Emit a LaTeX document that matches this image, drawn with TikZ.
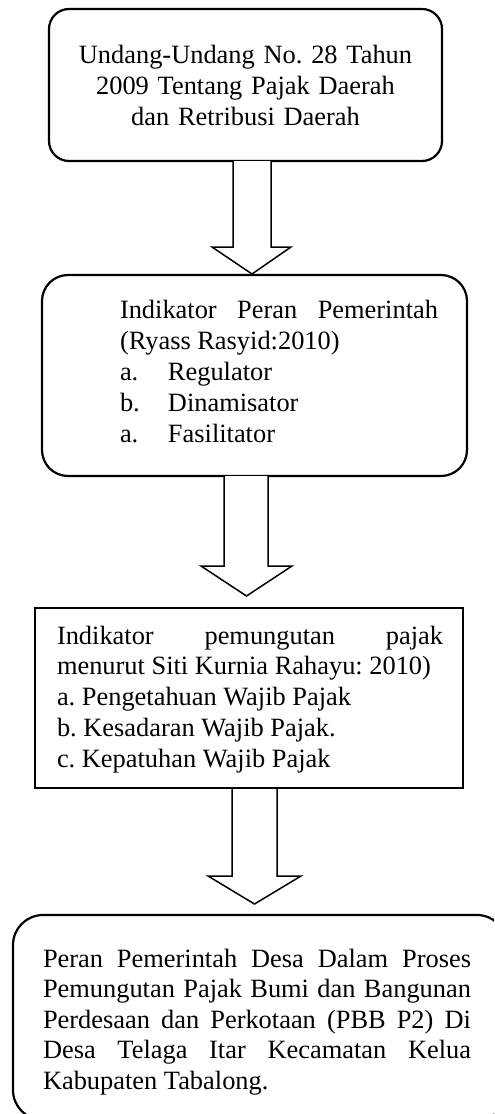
\documentclass[tikz,border=0pt]{standalone}
\usepackage{fontspec}
\setmainfont{Liberation Serif}
\frenchspacing
\begin{document}
\begin{tikzpicture}[x=0.5pt,y=-0.5pt,
  boxline/.style={draw,line width=1.1pt,inner sep=0pt,outer sep=0pt,anchor=north west},
  arrowline/.style={draw,line width=0.75pt,fill=white,line join=miter},
  txt/.style={inner sep=0pt,outer sep=0pt,anchor=base west,align=justify,font=\fontsize{13.2pt}{15.4pt}\selectfont\frenchspacing}]
\clip (0,0) rectangle (494,1114);
\useasboundingbox (0,0) rectangle (494,1114);
% boxes
\node[boxline,rounded corners=10pt,minimum width=196.5pt,minimum height=76pt] (b1) at (49,9) {};
\node[boxline,rounded corners=13pt,minimum width=212.5pt,minimum height=100.5pt] (b2) at (42,275) {};
\node[boxline,minimum width=214pt,minimum height=90pt] (b3) at (35,608) {};
\node[boxline,rounded corners=15pt,minimum width=247pt,minimum height=102.5pt] (b4) at (13,915) {};
% texts
\node[txt,anchor=base,align=center,text width=200pt,font=\fontsize{13.2pt}{15.5pt}\selectfont\frenchspacing] (t1) at (245.5,63.5)
  {Undang-Undang No. 28 Tahun\\ 2009 Tentang Pajak Daerah\\ dan Retribusi Daerah};
\node[txt,text width=159pt,font=\fontsize{13.2pt}{15.5pt}\selectfont\frenchspacing] (t2) at (120,318)
  {Indikator Peran Pemerintah\linebreak (Ryass Rasyid:2010)\\
   \makebox[24pt][l]{a.}Regulator\\
   \makebox[24pt][l]{b.}Dinamisator\\
   \makebox[24pt][l]{a.}Fasilitator};
\node[txt,text width=193pt] (t3) at (57,644)
  {Indikator pemungutan pajak\linebreak menurut Siti Kurnia Rahayu: 2010)\\
   a. Pengetahuan Wajib Pajak\\
   b. Kesadaran Wajib Pajak.\\
   c. Kepatuhan Wajib Pajak};
\node[txt,text width=214pt,font=\fontsize{13.2pt}{15.25pt}\selectfont\frenchspacing] (t4) at (43,967)
  {Peran Pemerintah Desa Dalam Proses\linebreak
   Pemungutan Pajak Bumi dan Bangunan\linebreak
   Perdesaan dan Perkotaan (PBB P2) Di\linebreak
   Desa Telaga Itar Kecamatan Kelua\linebreak
   Kabupaten Tabalong.};
% block arrows
\coordinate (a1) at (252,274);
\coordinate (a2) at (246.5,596);
\coordinate (a3) at (254.5,904);
\draw[arrowline] (233,161) -- (233,247) -- (212,247) -- (a1) -- (291,247) -- (271,247) -- (271,161);
\draw[arrowline] (224,476) -- (224,566) -- (201,566) -- (a2) -- (292,566) -- (268,566) -- (268,476);
\draw[arrowline] (232,789) -- (232,876) -- (208,876) -- (a3) -- (301,876) -- (277,876) -- (277,789);
\end{tikzpicture}
\end{document}
